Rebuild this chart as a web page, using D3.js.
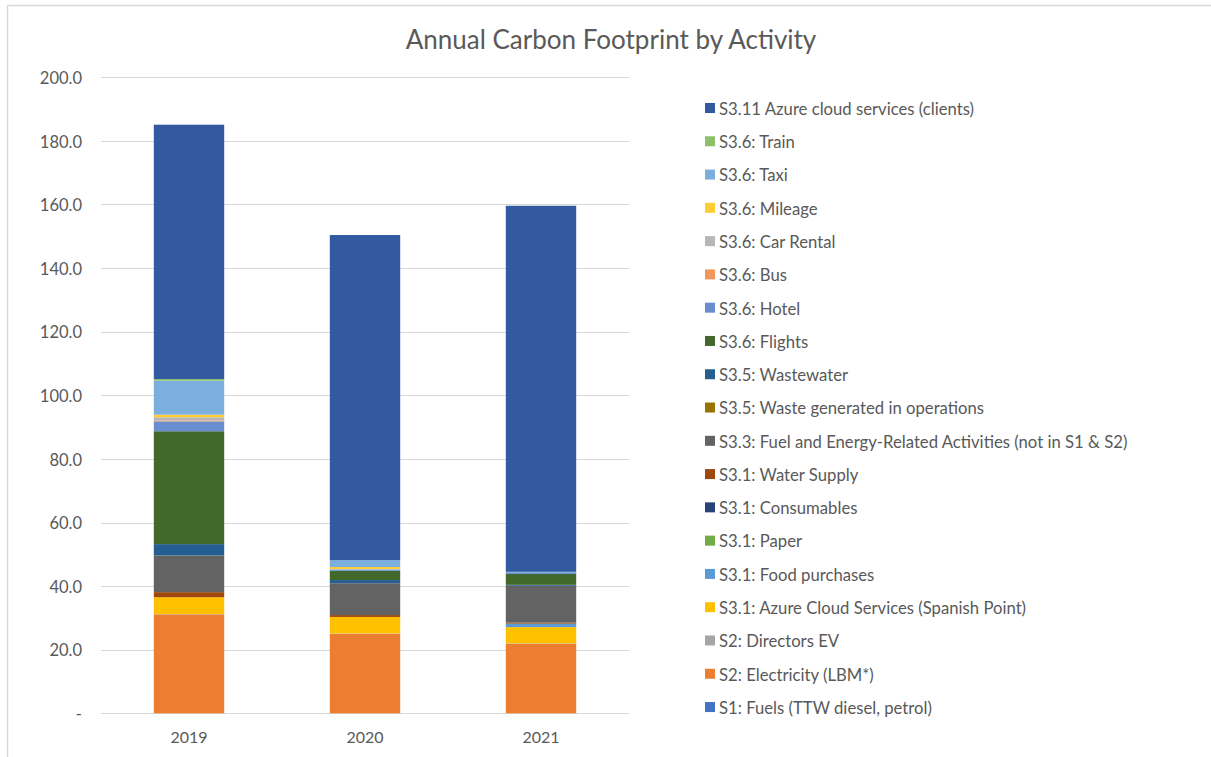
<!DOCTYPE html>
<html>
<head>
<meta charset="utf-8">
<script src="https://cdn.jsdelivr.net/npm/d3@7"></script>
<style>
  html, body { margin: 0; padding: 0; background: #fff; }
  svg { display: block; }
  text { font-family: Lato, "Noto Sans", sans-serif; fill: #595959; }
</style>
</head>
<body>
<svg id="chart" width="1211" height="757"></svg>
<script>
// Reporting years
const years = ["2019", "2020", "2021"];

// Emission sources, bottom of the stack first
const seriesNames = [
  "S1: Fuels (TTW diesel, petrol)",
  "S2: Electricity (LBM*)",
  "S2: Directors EV",
  "S3.1: Azure Cloud Services (Spanish Point)",
  "S3.1: Food purchases",
  "S3.1: Paper",
  "S3.1: Consumables",
  "S3.1: Water Supply",
  "S3.3: Fuel and Energy-Related Activities (not in S1 & S2)",
  "S3.5: Waste generated in operations",
  "S3.5: Wastewater",
  "S3.6: Flights",
  "S3.6: Hotel",
  "S3.6: Bus",
  "S3.6: Car Rental",
  "S3.6: Mileage",
  "S3.6: Taxi",
  "S3.6: Train",
  "S3.11 Azure cloud services (clients)"
];

// tCO2e per source for 2019, 2020, 2021
const s1Fuels        = [0.0, 0.0, 0.0];
const s2Electricity  = [31.1, 25.0, 21.9];
const s2DirectorsEV  = [0.1, 0.1, 0.1];
const s31AzureSP     = [5.3, 5.2, 5.1];
const s31Food        = [0.0, 0.0, 1.1];
const s31Paper       = [0.0, 0.0, 0.0];
const s31Consumables = [0.0, 0.0, 0.0];
const s31Water       = [1.6, 0.6, 0.3];
const s33FuelEnergy  = [11.4, 10.0, 11.6];
const s35Waste       = [0.1, 0.0, 0.0];
const s35Wastewater  = [3.6, 1.0, 0.3];
const s36Flights     = [35.5, 2.9, 3.4];
const s36Hotel       = [3.1, 0.4, 0.3];
const s36Bus         = [0.3, 0.0, 0.0];
const s36CarRental   = [1.0, 0.2, 0.0];
const s36Mileage     = [0.8, 0.6, 0.0];
const s36Taxi        = [10.7, 2.2, 0.4];
const s36Train       = [0.5, 0.0, 0.0];
const s311Azure      = [80.0, 102.2, 115.1];

const seriesValues = [
  s1Fuels, s2Electricity, s2DirectorsEV, s31AzureSP, s31Food, s31Paper,
  s31Consumables, s31Water, s33FuelEnergy, s35Waste, s35Wastewater,
  s36Flights, s36Hotel, s36Bus, s36CarRental, s36Mileage, s36Taxi,
  s36Train, s311Azure
];

const seriesColors = [
  "#4472C4", "#ED7D31", "#A5A5A5", "#FFC000", "#5B9BD5", "#70AD47",
  "#264478", "#9E480E", "#636363", "#997300", "#255E91", "#43682B",
  "#698ED0", "#F1975A", "#B7B7B7", "#FFCD33", "#7CAFDD", "#8CC168",
  "#335AA1"
];

// Y axis ticks
const yTicks = [0, 20, 40, 60, 80, 100, 120, 140, 160, 180, 200];

// Assemble rows for d3.stack
const rows = years.map((y, i) => {
  const r = { year: y };
  seriesNames.forEach((n, k) => { r[n] = seriesValues[k][i]; });
  return r;
});
const stacked = d3.stack().keys(seriesNames)(rows);

const svg = d3.select("#chart");

// Outer chart frame (top and left edges)
svg.append("path")
  .attr("d", "M7.5,757 V5.5 H1211")
  .attr("fill", "none")
  .attr("stroke", "#d9d9d9")
  .attr("stroke-width", 1.5);

// Title
svg.append("text")
  .attr("x", 611)
  .attr("y", 49)
  .attr("text-anchor", "middle")
  .style("font-size", "26px")
  .text("Annual Carbon Footprint by Activity");

const x = d3.scaleBand()
  .domain(years)
  .range([101, 629])
  .paddingInner(0.6)
  .paddingOuter(0.3);

const y = d3.scaleLinear()
  .domain([0, 200])
  .range([713.3, 77.3]);

// Horizontal gridlines
svg.append("g")
  .selectAll("line")
  .data(yTicks)
  .join("line")
  .attr("x1", 101)
  .attr("x2", 629)
  .attr("y1", d => Math.round(y(d)) + 0.5)
  .attr("y2", d => Math.round(y(d)) + 0.5)
  .attr("stroke", "#d9d9d9")
  .attr("stroke-width", 1);

// Y axis labels
const yAxis = d3.axisLeft(y)
  .tickValues(yTicks)
  .tickSize(0)
  .tickPadding(0)
  .tickFormat(d => d === 0 ? "-" : d3.format(".1f")(d));
const yg = svg.append("g")
  .attr("transform", "translate(82,1)")
  .call(yAxis);
yg.select(".domain").remove();
yg.selectAll("text")
  .style("font-size", "16.5px")
  .style("font-family", "Lato, 'Noto Sans', sans-serif")
  .attr("fill", "#595959");

// Stacked bars
svg.append("g")
  .selectAll("g")
  .data(stacked)
  .join("g")
  .attr("fill", (d, i) => seriesColors[i])
  .selectAll("rect")
  .data(d => d)
  .join("rect")
  .attr("x", d => x(d.data.year))
  .attr("width", x.bandwidth())
  .attr("y", d => y(d[1]))
  .attr("height", d => Math.max(0, y(d[0]) - y(d[1])));

// X axis labels
const xAxis = d3.axisBottom(x).tickSize(0).tickPadding(0);
const xg = svg.append("g")
  .attr("transform", "translate(0,732)")
  .call(xAxis);
xg.select(".domain").remove();
xg.selectAll("text")
  .style("font-size", "16px")
  .style("font-family", "Lato, 'Noto Sans', sans-serif")
  .attr("fill", "#595959");

// Legend, top entry is the top of the stack
const legendOrder = seriesNames.map((n, i) => i).reverse();
const legend = svg.append("g")
  .selectAll("g")
  .data(legendOrder)
  .join("g")
  .attr("transform", (d, i) => `translate(705,${108 + i * 33.28})`);
legend.append("rect")
  .attr("x", 0)
  .attr("y", -5)
  .attr("width", 10)
  .attr("height", 10)
  .attr("fill", d => seriesColors[d]);
legend.append("text")
  .attr("x", 14)
  .attr("y", 1)
  .attr("dy", "0.35em")
  .style("font-size", "16.7px")
  .text(d => seriesNames[d]);
</script>
</body>
</html>
